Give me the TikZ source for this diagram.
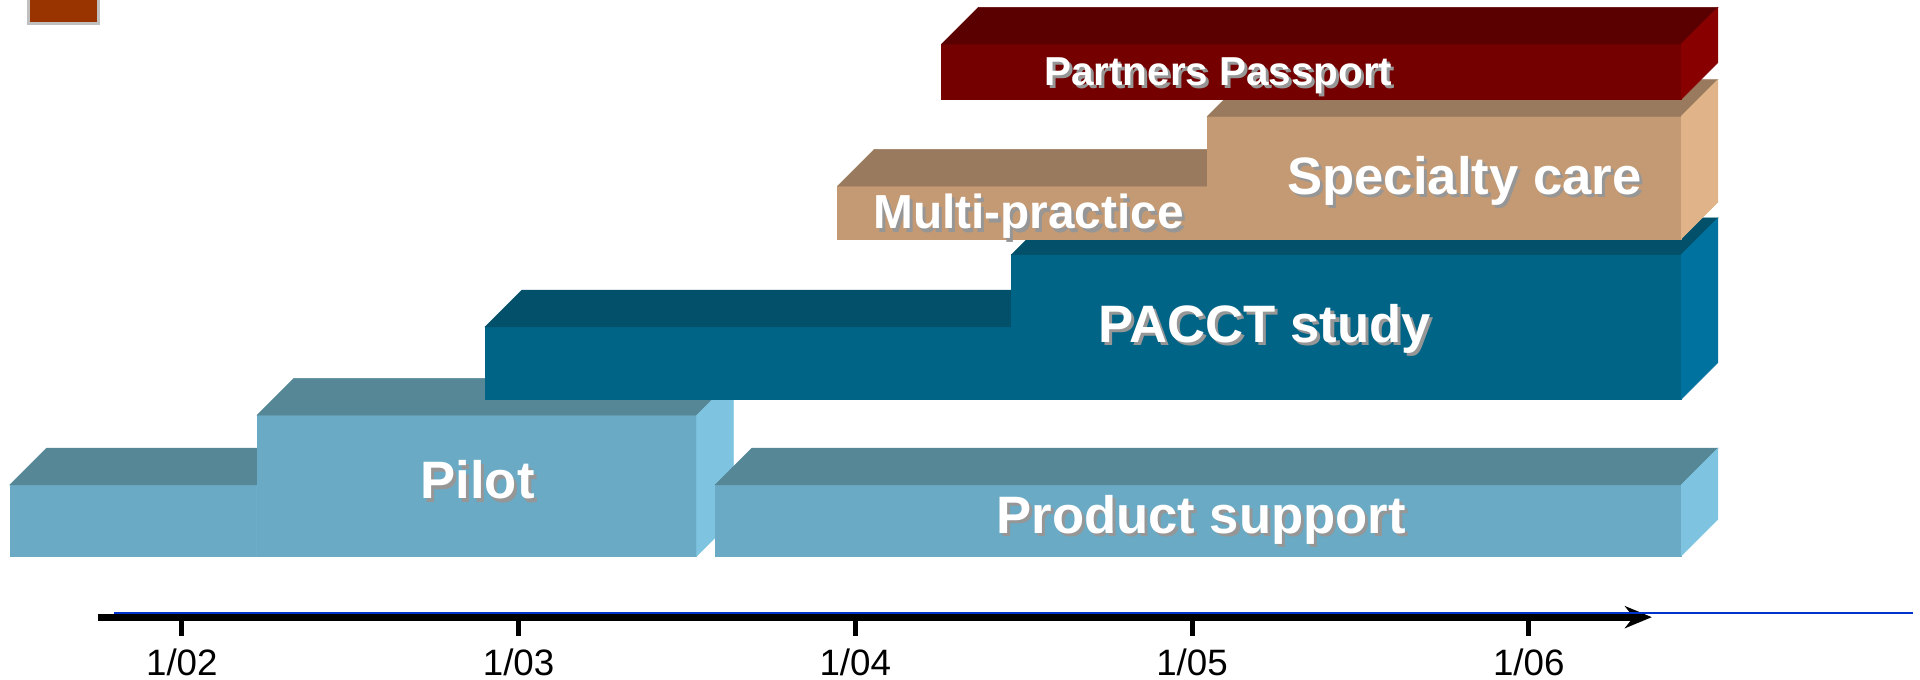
\documentclass[tikz,border=0pt]{standalone}
\usepackage{fontspec}
\setmainfont{Liberation Sans}
\usepackage{tikz}
\usetikzlibrary{arrows.meta}
\usepackage{xcolor}

\definecolor{skyFront}{RGB}{106,170,196}
\definecolor{skyTop}{RGB}{85,135,150}
\definecolor{skySide}{RGB}{126,196,224}
\definecolor{tealFront}{RGB}{0,100,135}
\definecolor{tealTop}{RGB}{3,80,106}
\definecolor{tealSide}{RGB}{0,114,160}
\definecolor{tanFront}{RGB}{196,154,116}
\definecolor{tanTop}{RGB}{154,122,94}
\definecolor{tanSide}{RGB}{224,180,136}
\definecolor{wineFront}{RGB}{116,0,0}
\definecolor{wineTop}{RGB}{90,0,0}
\definecolor{wineSide}{RGB}{136,0,0}
\definecolor{shadowGray}{RGB}{150,150,150}
\definecolor{axisBlue}{RGB}{0,51,204}
\definecolor{legendRust}{RGB}{153,51,0}
\definecolor{legendGray}{RGB}{192,192,192}

\begin{document}
\begin{tikzpicture}[x=1pt,y=1pt,yscale=-1,xscale=1,
  face/.style={fill=#1,draw=#1,line width=0.4pt},
  barlabel/.style={text=white,font=\bfseries\fontsize{#1}{#1}\selectfont,inner sep=0pt,anchor=base},
  barshadow/.style={text=shadowGray,font=\bfseries\fontsize{#1}{#1}\selectfont,inner sep=0pt,anchor=base},
  yearlabel/.style={font=\fontsize{30}{30}\selectfont,inner sep=0pt,anchor=base}]
\useasboundingbox (0,0) rectangle (1568,555);

%Shape: Rectangle [legend]
\draw [fill=legendRust,draw=legendGray,line width=2.5pt] (23.2,-5) rectangle (80.5,19.2);

%Shape: Box [product support, left]
\draw [face=skyFront] (8,396) rectangle (210,454);
\draw [face=skyTop] (8,396) -- (38,366) -- (240,366) -- (210,396) -- cycle;
\draw [face=skySide] (210,396) -- (240,366) -- (240,424) -- (210,454) -- cycle;
%Shape: Box [pilot]
\draw [face=skyFront] (210,339) rectangle (569,454);
\draw [face=skyTop] (210,339) -- (240,309) -- (599,309) -- (569,339) -- cycle;
\draw [face=skySide] (569,339) -- (599,309) -- (599,424) -- (569,454) -- cycle;
%Shape: Box [product support]
\draw [face=skyFront] (584,396) rectangle (1373,454);
\draw [face=skyTop] (584,396) -- (614,366) -- (1403,366) -- (1373,396) -- cycle;
\draw [face=skySide] (1373,396) -- (1403,366) -- (1403,424) -- (1373,454) -- cycle;

%Shape: Box [study, left]
\draw [face=tealFront] (396,267) rectangle (826,326);
\draw [face=tealTop] (396,267) -- (426,237) -- (856,237) -- (826,267) -- cycle;
\draw [face=tealSide] (826,267) -- (856,237) -- (856,296) -- (826,326) -- cycle;
%Shape: Box [study]
\draw [face=tealFront] (826,208) rectangle (1373,326);
\draw [face=tealTop] (826,208) -- (856,178) -- (1403,178) -- (1373,208) -- cycle;
\draw [face=tealSide] (1373,208) -- (1403,178) -- (1403,296) -- (1373,326) -- cycle;

%Shape: Box [multi-practice]
\draw [face=tanFront] (684,152) rectangle (986,195);
\draw [face=tanTop] (684,152) -- (714,122) -- (1016,122) -- (986,152) -- cycle;
\draw [face=tanSide] (986,152) -- (1016,122) -- (1016,165) -- (986,195) -- cycle;
%Shape: Box [specialty care]
\draw [face=tanFront] (986,95) rectangle (1373,195);
\draw [face=tanTop] (986,95) -- (1016,65) -- (1403,65) -- (1373,95) -- cycle;
\draw [face=tanSide] (1373,95) -- (1403,65) -- (1403,165) -- (1373,195) -- cycle;

%Shape: Box [passport]
\draw [face=wineFront] (769,36) rectangle (1373,81);
\draw [face=wineTop] (769,36) -- (799,6) -- (1403,6) -- (1373,36) -- cycle;
\draw [face=wineSide] (1373,36) -- (1403,6) -- (1403,51) -- (1373,81) -- cycle;

% Text Node
\node (passportsh) [barshadow=33] at (997.5,72) {Partners Passport};
\node (passport) [barlabel=33] at (995,69.5) {Partners Passport};
% Text Node
\node (multish) [barshadow=39] at (842.5,189.5) {Multi-practice};
\node (multi) [barlabel=39] at (840,187) {Multi-practice};
% Text Node
\node (specialtysh) [barshadow=43] at (1198.5,161.5) {Specialty care};
\node (specialty) [barlabel=43] at (1196,159) {Specialty care};
% Text Node
\node (paccttsh) [barshadow=43] at (1035.5,282.5) {PACCT study};
\node (pacct) [barlabel=43] at (1033,280) {PACCT study};
% Text Node
\node (pilotsh) [barshadow=43] at (392.5,410) {Pilot};
\node (pilot) [barlabel=43] at (390,407.5) {Pilot};
% Text Node
\node (supportsh) [barshadow=43] at (983.5,438.5) {Product support};
\node (support) [barlabel=43] at (981,436) {Product support};

% time axis
\coordinate (axisstart) at (80,504);
\coordinate (axisend) at (1349,504);
\draw [line width=5.5pt,-{Stealth[length=22pt,width=18pt,inset=7pt]}] (axisstart) -- (axisend);
\coordinate (bluestart) at (93,500.8);
\coordinate (blueend) at (1562,500.8);
\draw [axisBlue,line width=2pt] (bluestart) -- (blueend);

\foreach \yr [count=\i from 0] in {02,03,04,05,06}{
  \coordinate (tick\yr) at (148.5+275*\i,506);
  \draw [line width=4pt] (tick\yr) -- ++(0,13.5);
  \node (year\yr) [yearlabel] at (148.5+275*\i,551.5) {1/\yr};
}

\end{tikzpicture}
\end{document}
